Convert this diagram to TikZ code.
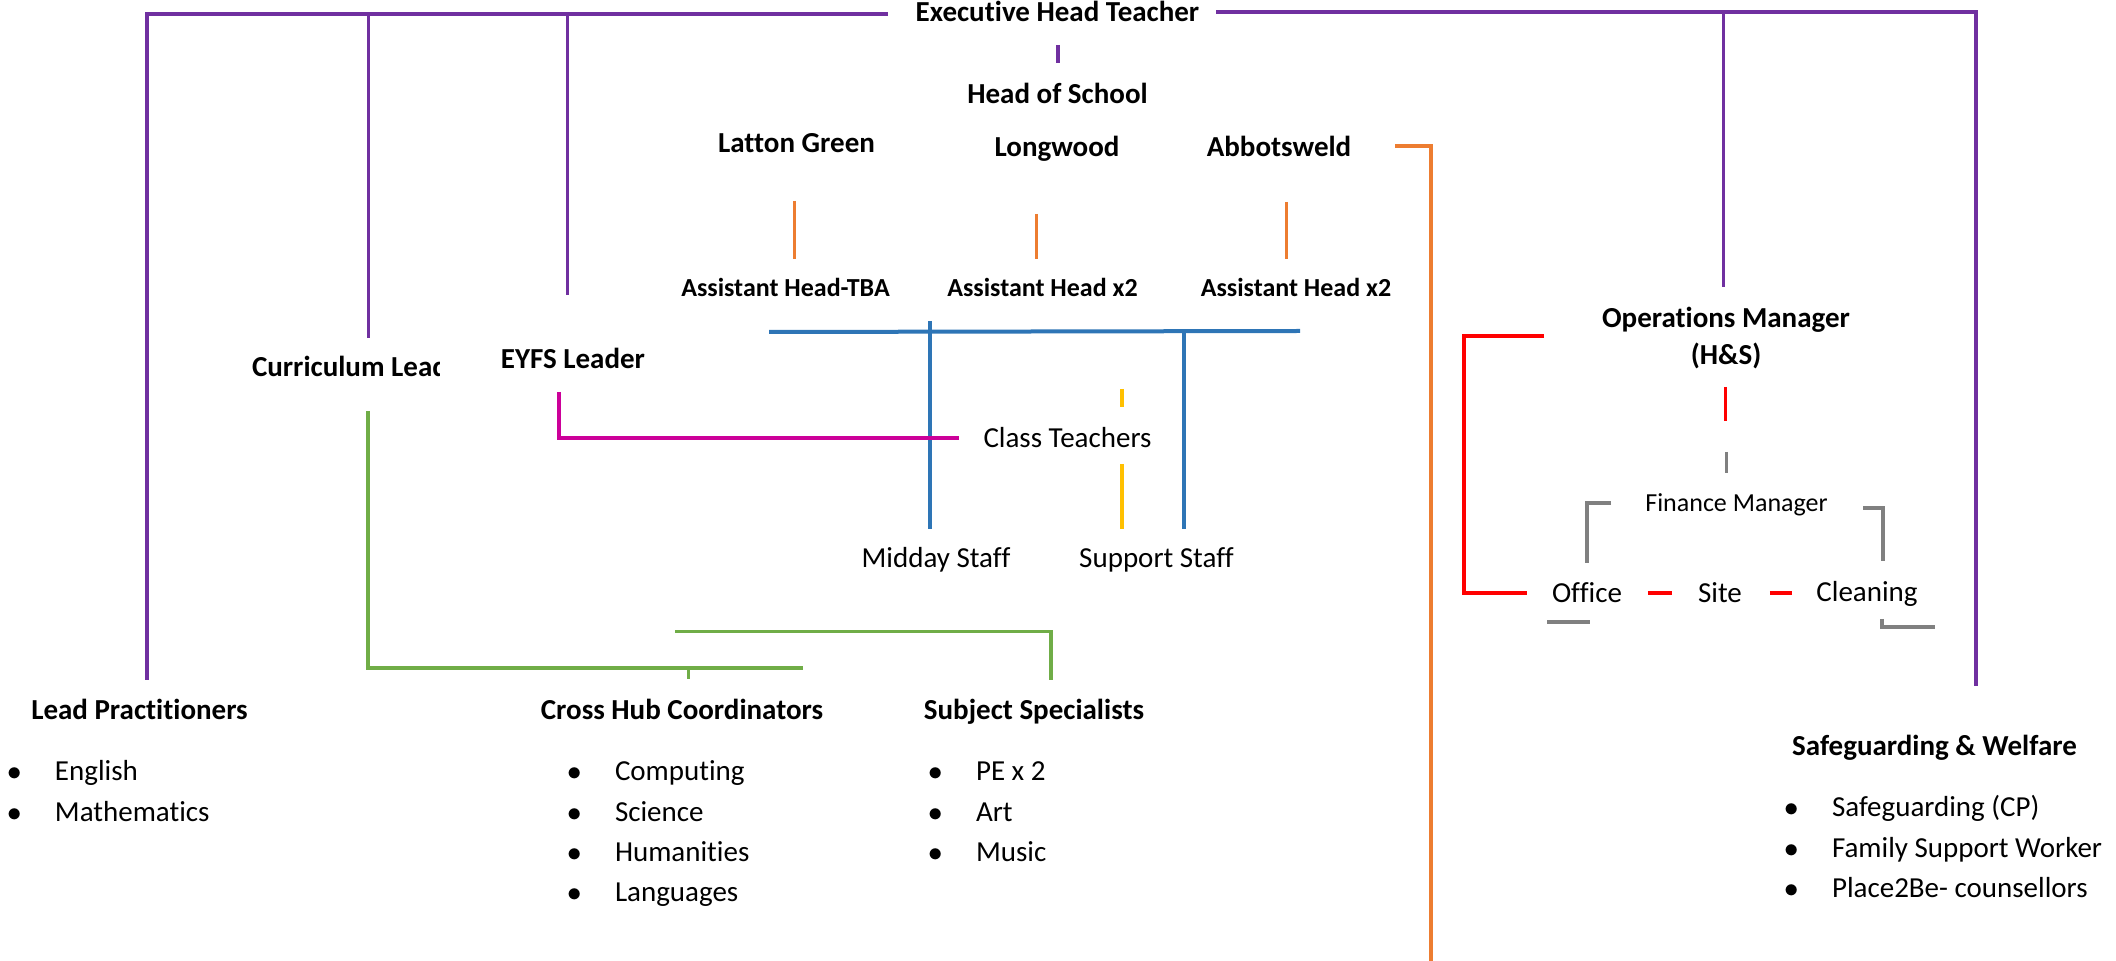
\documentclass[tikz,border=0pt]{standalone}
\usepackage{fontspec}
\setmainfont[Ligatures=NoCommon]{Carlito}
\usetikzlibrary{positioning}
\definecolor{hubpurple}{HTML}{7030A0}
\definecolor{huborange}{HTML}{ED7D31}
\definecolor{hubblue}{HTML}{2E75B6}
\definecolor{hubmagenta}{HTML}{CC0099}
\definecolor{hubgreen}{HTML}{70AD47}
\definecolor{hubyellow}{HTML}{FFC000}
\definecolor{hubred}{HTML}{FF0000}
\definecolor{hubgrey}{HTML}{808080}
\newcommand\lbul{\makebox[24pt][l]{$\bullet$}}

\begin{document}
\begin{tikzpicture}
[x=0.5pt,y=-0.5pt,
 every node/.style={inner sep=0pt,outer sep=0pt,anchor=base},
 head/.style={font=\bfseries\fontsize{14.5}{18}\selectfont},
 sub/.style={font=\bfseries\fontsize{13}{16}\selectfont},
 txt/.style={font=\fontsize{14.5}{18}\selectfont},
 small/.style={font=\fontsize{13}{16}\selectfont},
 item/.style={anchor=base west,font=\fontsize{14.5}{18}\selectfont},
 purp/.style={draw=hubpurple,line width=1.9pt},
 orng/.style={draw=huborange,line width=1.6pt},
 blu/.style={draw=hubblue,line width=1.7pt},
 mag/.style={draw=hubmagenta,line width=1.9pt},
 grn/.style={draw=hubgreen,line width=1.9pt},
 yel/.style={draw=hubyellow,line width=1.6pt},
 rd/.style={draw=hubred,line width=1.9pt},
 gry/.style={draw=hubgrey,line width=1.9pt},
 thin/.style={line width=1.5pt}]
\useasboundingbox (0,0) rectangle (2116,961);
% titles
\node[head] (exec)  at (1057.5,22)  {Executive Head Teacher};
\node[head] (hos)   at (1057.5,104) {Head of School};
\node[head] (latg)  at (796.5,153)  {Latton Green};
\node[head] (lngw)  at (1057,157)   {Longwood};
\node[head] (abbw)  at (1279,157)   {Abbotsweld};
\node[sub]  (ahlat) at (785.5,297)  {Assistant Head-TBA};
\node[sub]  (ahlng) at (1042.5,297) {Assistant Head x2};
\node[sub]  (ahabb) at (1296,297)   {Assistant Head x2};
\begin{scope}
\clip (240,340) rectangle (439,400);
\node[head,anchor=base west] (curr) at (252,377) {Curriculum Leader};
\end{scope}
\node[head] (eyfs)  at (573,369)    {EYFS Leader};
\node[head] (ops)   at (1726,328)   {Operations Manager};
\node[head] (opshs) at ([yshift=-18.5pt]ops.base) {(H\&S)};
\node[txt]  (clst)  at (1067.5,447.5) {Class Teachers};
\node[txt]  (mids)  at (936,568)    {Midday Staff};
\node[txt]  (sups)  at (1156.5,568) {Support Staff};
\node[small] (finm) at (1736.5,512) {Finance Manager};
\node[txt]  (offc)  at (1587,603)   {Office};
\node[txt]  (site)  at (1720,603)   {Site};
\node[txt]  (clng)  at (1867,602)   {Cleaning};
\node[head] (lead)  at (139.5,719.5)  {Lead Practitioners};
\node[head] (cross) at (682,719.5)    {Cross Hub Coordinators};
\node[head] (subj)  at (1034,719.5)   {Subject Specialists};
\node[head] (safe)  at (1934.5,756) {Safeguarding \& Welfare};
% lists
\node[item] (leadA)  at (7,781)   {\lbul English};
\node[item] (leadB)  at ([yshift=-20.15pt]leadA.base west)  {\lbul Mathematics};
\node[item] (crossA) at (567,781) {\lbul Computing};
\node[item] (crossB) at ([yshift=-20.15pt]crossA.base west) {\lbul Science};
\node[item] (crossC) at ([yshift=-20.15pt]crossB.base west) {\lbul Humanities};
\node[item] (crossD) at ([yshift=-20.15pt]crossC.base west) {\lbul Languages};
\node[item] (subjA)  at (928,781) {\lbul PE x 2};
\node[item] (subjB)  at ([yshift=-20.15pt]subjA.base west)  {\lbul Art};
\node[item] (subjC)  at ([yshift=-20.15pt]subjB.base west)  {\lbul Music};
\node[item] (safeA)  at (1784,817) {\lbul Safeguarding (CP)};
\node[item] (safeB)  at ([yshift=-20.15pt]safeA.base west)  {\lbul Family Support Worker};
\node[item] (safeC)  at ([yshift=-20.15pt]safeB.base west)  {\lbul Place2Be- counsellors};
% line ends
\coordinate (pl0) at (888,14);   \coordinate (pl1) at (147,14);   \coordinate (pl2) at (147,680);
\coordinate (pc0) at (368,14);   \coordinate (pc1) at (368,338);
\coordinate (pe0) at (567,14);   \coordinate (pe1) at (567,295);
\coordinate (pr0) at (1216,12);  \coordinate (pr1) at (1976,12);  \coordinate (pr2) at (1976,686);
\coordinate (po0) at (1723,12);  \coordinate (po1) at (1723,287);
\coordinate (ph0) at (1058,45);  \coordinate (ph1) at (1058,63);
\coordinate (og0) at (794,201);  \coordinate (og1) at (794,259);
\coordinate (ol0) at (1036,214); \coordinate (ol1) at (1036,259);
\coordinate (oa0) at (1286,202); \coordinate (oa1) at (1286,259);
\coordinate (ob0) at (1395,146); \coordinate (ob1) at (1431,146); \coordinate (ob2) at (1431,961);
\coordinate (bh0) at (769,332);  \coordinate (bh1) at (1300,331);
\coordinate (bm0) at (930,321);  \coordinate (bm1) at (930,529);
\coordinate (bs0) at (1184,331); \coordinate (bs1) at (1184,529);
\coordinate (m0) at (559,392);   \coordinate (m1) at (559,438);   \coordinate (m2) at (959,438);
\coordinate (y0) at (1122,389);  \coordinate (y1) at (1122,407);
\coordinate (y2) at (1122,464);  \coordinate (y3) at (1122,529);
\coordinate (g0) at (368,411);   \coordinate (g1) at (368,668);   \coordinate (g2) at (803,668);
\coordinate (g3) at (688,668);   \coordinate (g4) at (688,679);
\coordinate (g5) at (675,631.5); \coordinate (g6) at (1051,631.5); \coordinate (g7) at (1051,680);
\coordinate (r0) at (1544,336);  \coordinate (r1) at (1464,336);
\coordinate (r2) at (1464,593);  \coordinate (r3) at (1527,593);
\coordinate (r4) at (1725,387);  \coordinate (r5) at (1725,421.5);
\coordinate (k0) at (1726,452);  \coordinate (k1) at (1726,473);
\coordinate (k2) at (1611,503);  \coordinate (k3) at (1587,503);  \coordinate (k4) at (1587,563);
\coordinate (k5) at (1863,508);  \coordinate (k6) at (1883,508);  \coordinate (k7) at (1883,561);
\coordinate (k8) at (1547,622);  \coordinate (k9) at (1590,622);
\coordinate (k10) at (1882,619); \coordinate (k11) at (1882,627); \coordinate (k12) at (1935,627);
% connectors
\draw[purp] (pl0) -- (pl1) -- (pl2);
\draw[purp,thin] (pc0) -- (pc1);
\draw[purp,thin] (pe0) -- (pe1);
\draw[purp] (pr0) -- (pr1) -- (pr2);
\draw[purp,thin] (po0) -- (po1);
\draw[purp] (ph0) -- (ph1);
\draw[orng,thin] (og0) -- (og1);
\draw[orng,thin] (ol0) -- (ol1);
\draw[orng,thin] (oa0) -- (oa1);
\draw[orng] (ob0) -- (ob1) -- (ob2);
\draw[blu,line width=2pt] (bh0) -- (bh1);
\draw[blu] (bm0) -- (bm1);
\draw[blu] (bs0) -- (bs1);
\draw[mag] (m0) -- (m1) -- (m2);
\draw[yel] (y0) -- (y1);
\draw[yel] (y2) -- (y3);
\draw[grn] (g0) -- (g1) -- (g2);
\draw[grn,thin] (g3) -- (g4);
\draw[grn] (g5) -- (g6) -- (g7);
\draw[rd] (r0) -- (r1) -- (r2) -- (r3);
\draw[rd,thin] (r4) -- (r5);
\draw[rd,shorten <=13pt,shorten >=13pt] (offc.east) -- (site.west |- offc.east);
\draw[rd,shorten <=14pt,shorten >=12pt] (site.east |- offc.east) -- (clng.west |- offc.east);
\draw[gry,thin] (k0) -- (k1);
\draw[gry] (k2) -- (k3) -- (k4);
\draw[gry] (k5) -- (k6) -- (k7);
\draw[gry] (k8) -- (k9);
\draw[gry] (k10) -- (k11) -- (k12);
\end{tikzpicture}
\end{document}
